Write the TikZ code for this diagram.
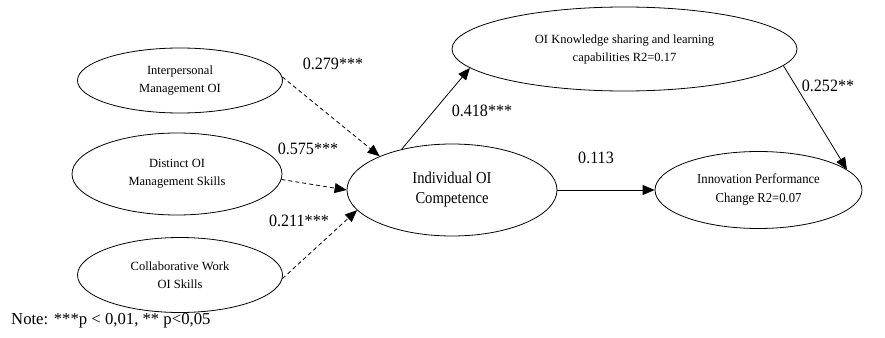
\documentclass[tikz,border=0pt]{standalone}
\usepackage{fontspec}
\setmainfont{Liberation Serif}
\newfontfamily\narrowserif[FakeStretch=0.88]{Liberation Serif}
\newfontfamily\coefserif[FakeStretch=0.93]{Liberation Serif}
\usetikzlibrary{arrows.meta,shapes.geometric}
\begin{document}
\begin{tikzpicture}[x=1pt,y=-1pt,
  construct/.style={draw,ellipse,inner sep=0pt,align=center,line width=0.8pt,
    font=\fontsize{12.5}{18}\selectfont},
  coef/.style={font=\coefserif\fontsize{17.3}{18}\selectfont},
  path/.style={line width=0.8pt,-{Triangle[length=12pt,width=10pt]}},
  weak/.style={path,dashed,dash pattern=on 4pt off 3pt}]
\useasboundingbox (0,0) rectangle (885,337);

% antecedents
\node[construct,minimum width=205,minimum height=65] (inter) at (180,80.5)
  {Interpersonal\\Management OI};
\node[construct,minimum width=210,minimum height=82] (dist) at (177,174)
  {Distinct OI\\Management Skills};
\node[construct,minimum width=205,minimum height=75] (coll) at (180,275)
  {Collaborative Work\\OI Skills};

% central construct and outcomes
\node[construct,minimum width=210,minimum height=92,
  font=\narrowserif\fontsize{16.6}{20}\selectfont] (indiv) at (452,190)
  {Individual OI\\Competence};
\node[construct,minimum width=345,minimum height=84] (know) at (624.5,49)
  {OI Knowledge sharing and learning\\capabilities R2=0.17};
\node[construct,minimum width=207,minimum height=77,
  font=\coefserif\fontsize{13.6}{19}\selectfont] (innov) at (758.5,190)
  {Innovation Performance\\Change R2=0.07};

% paths
\draw[weak] (inter.2) -- (indiv.155);
\draw[weak] (dist.-3) -- (indiv.180);
\draw[weak] (coll.-2) -- (indiv.-168);
\draw[path] (indiv.141) -- (know.-173.4);
\draw[path] (indiv.east) -- (innov.west);
\draw[path] (know.-6.7) -- (innov.13.5);

% path coefficients
\node[coef] (c1) at (333,64) {0.279***};
\node[coef] (c2) at (308,149) {0.575***};
\node[coef] (c3) at (299,221) {0.211***};
\node[coef] (c4) at (482,111) {0.418***};
\node[coef] (c5) at (596,158) {0.113};
\node[coef] (c6) at (828,86) {0.252**};

\node[anchor=west,inner sep=0pt,font=\fontsize{16.7}{18}\selectfont] (note) at (11,321)
  {Note: ***p < 0,01, ** p<0,05};
\end{tikzpicture}
\end{document}
